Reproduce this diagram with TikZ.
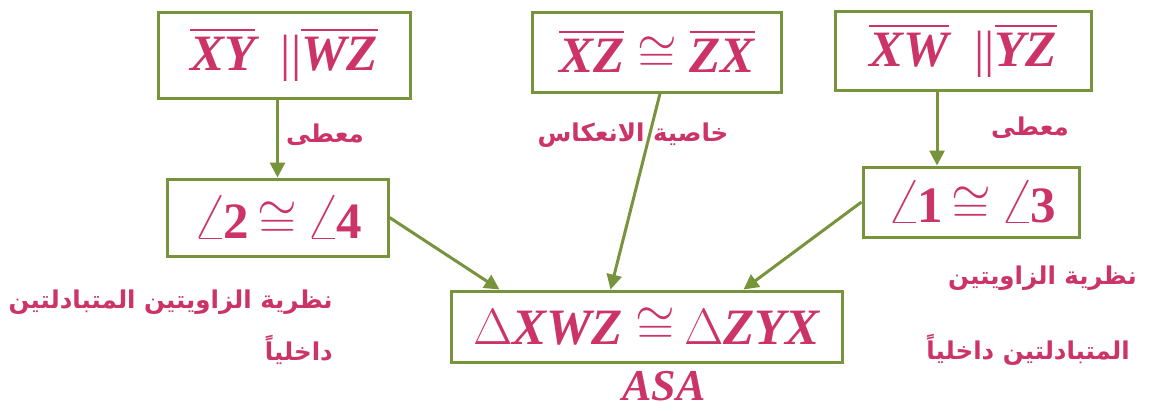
\RequirePackage{fix-cm}
\documentclass[tikz,border=0pt]{standalone}
\usepackage{fontspec}
\setmainfont{Liberation Serif}
\newfontfamily\arabicfont[Script=Arabic]{DejaVu Sans}
\TeXXeTstate=1
\usetikzlibrary{arrows.meta}
\definecolor{txtpink}{RGB}{204,51,102}
\definecolor{boxgreen}{RGB}{119,147,60}
\newcommand\ovl[1]{\vbox{\hrule height 2pt\kern 6pt\hbox{#1}}}
\newcommand\bi[1]{{\bfseries\itshape #1}}
\newcommand\cg{$\cong$}
\newcommand\ang{\scalebox{1.3}{$\angle$}\kern-5pt}
\begin{document}
\begin{tikzpicture}[x=1pt,y=-1pt,
  box/.style={draw=boxgreen, line width=3pt, fill=white, inner sep=0pt,
    text=txtpink, font=\fontsize{51}{56}\selectfont},
  lab/.style={text=txtpink, inner sep=0pt, font=\arabicfont\bfseries\fontsize{24.5}{29}\selectfont},
  arr/.style={draw=boxgreen, line width=3pt, -{Triangle[length=15pt,width=15pt]}}]
\useasboundingbox (0,0) rectangle (1150,410);
\node[box, minimum width=252pt, minimum height=86pt] (b1) at (284,55)
  {\ovl{\bi{XY}}\ \ {\normalfont ||}\ovl{\bi{WZ}}};
\node[box, minimum width=249pt, minimum height=80pt] (b2) at (657,52)
  {\ovl{\bi{XZ}}\ \cg\ \ovl{\bi{ZX}}};
\node[box, minimum width=256pt, minimum height=79pt] (b3) at (963,51)
  {\ovl{\bi{XW}}\ \ {\normalfont ||}\ovl{\bi{YZ}}};
\node[box, minimum width=221pt, minimum height=77pt] (b4) at (277.5,217.5)
  {\ang\textbf{2}\,\cg\,\ang\textbf{4}};
\node[box, minimum width=216pt, minimum height=70pt] (b5) at (971,202)
  {\ang\textbf{1}\,\cg\,\ang\textbf{3}};
\node[box, minimum width=391pt, minimum height=71pt] (b6) at (646.5,326.5)
  {$\Delta$\bi{XWZ}\ \cg\,$\Delta$\bi{ZYX}};
\node[text=txtpink, inner sep=0pt, font=\fontsize{44}{48}\selectfont] (asa) at (664,386) {\bi{ASA}};

\node[lab] (l1) at (325,135) {\beginR معطى\endR};
\node[lab] (l2) at (633,135) {\beginR خاصية الانعكاس\endR};
\node[lab] (l3) at (1030,128) {\beginR معطى\endR};
\node[lab, anchor=east] (l4) at (333,302) {\beginR نظرية الزاويتين المتبادلتين\endR};
\node[lab, anchor=east] (l5) at (333,350) {\beginR داخلياً\endR};
\node[lab, anchor=east] (l6) at (1137,278) {\beginR نظرية الزاويتين\endR};
\node[lab, anchor=east] (l7) at (1130,350) {\beginR المتبادلتين داخلياً\endR};

\draw[arr] (b4.north |- b1.south) -- (b4.north);
\draw[arr] ([xshift=-34pt]b5.north |- b3.south) -- ([xshift=-34pt]b5.north);
\draw[arr] (b4.east) -- ([xshift=50pt]b6.north west);
\draw[arr] ([xshift=3pt]b2.south) -- ([xshift=161pt]b6.north west);
\draw[arr] (b5.west) -- ([xshift=-100pt]b6.north east);
\end{tikzpicture}
\end{document}
